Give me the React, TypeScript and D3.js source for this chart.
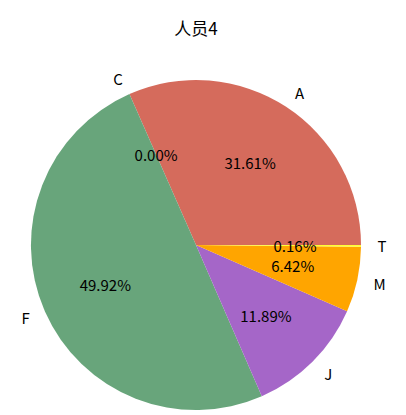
import React from "react";
import * as d3 from "d3";

const labels = ["A", "C", "F", "J", "M", "T"];
const values = [31.61, 0.0, 49.92, 11.89, 6.42, 0.16];
const colors = ["#d56b5c", "#4c72b0", "#68a57b", "#a566c8", "#ffa500", "#ffff33"];

export default function App() {
  const width = 406;
  const height = 415;
  const cx = 196;
  const cy = 245;
  const r = 165;
  const font = "'Noto Sans CJK SC', 'Microsoft YaHei', sans-serif";

  const total = d3.sum(values);
  // matplotlib style: start at east, counterclockwise
  const angle = d3.scaleLinear().domain([0, total]).range([0, 2 * Math.PI]);
  let cum = 0;
  const slices = values.map((v, i) => {
    const a0 = angle(cum);
    cum += v;
    const a1 = angle(cum);
    return { v, i, a0, a1 };
  });

  const arc = d3.arc<any>().innerRadius(0).outerRadius(r);

  return (
    <svg width={width} height={height} style={{ position: "absolute", left: 0, top: 0 }}>
      <rect width={width} height={height} fill="#fff" />
      <text x={cx} y={27} textAnchor="middle" dominantBaseline="central" fontFamily={font} fontSize={17} fill="#000">
        人员4
      </text>
      <g transform={`translate(${cx},${cy})`}>
        {slices.map((s) => (
          <path
            key={"p" + s.i}
            d={arc({ startAngle: Math.PI / 2 - s.a1, endAngle: Math.PI / 2 - s.a0 }) || ""}
            fill={colors[s.i]}
          />
        ))}
        {slices.map((s) => {
          const mid = (s.a0 + s.a1) / 2;
          const lx = 1.1 * r * Math.cos(mid);
          const ly = -1.1 * r * Math.sin(mid);
          const px = 0.6 * r * Math.cos(mid);
          const py = -0.6 * r * Math.sin(mid);
          return (
            <g key={"t" + s.i}>
              <text
                x={lx}
                y={ly}
                textAnchor={lx > 0 ? "start" : "end"}
                dominantBaseline="central"
                fontFamily={font}
                fontSize={15}
                fill="#000"
              >
                {labels[s.i]}
              </text>
              <text
                x={px}
                y={py}
                textAnchor="middle"
                dominantBaseline="central"
                fontFamily={font}
                fontSize={15}
                fill="#000"
              >
                {s.v.toFixed(2) + "%"}
              </text>
            </g>
          );
        })}
      </g>
    </svg>
  );
}
